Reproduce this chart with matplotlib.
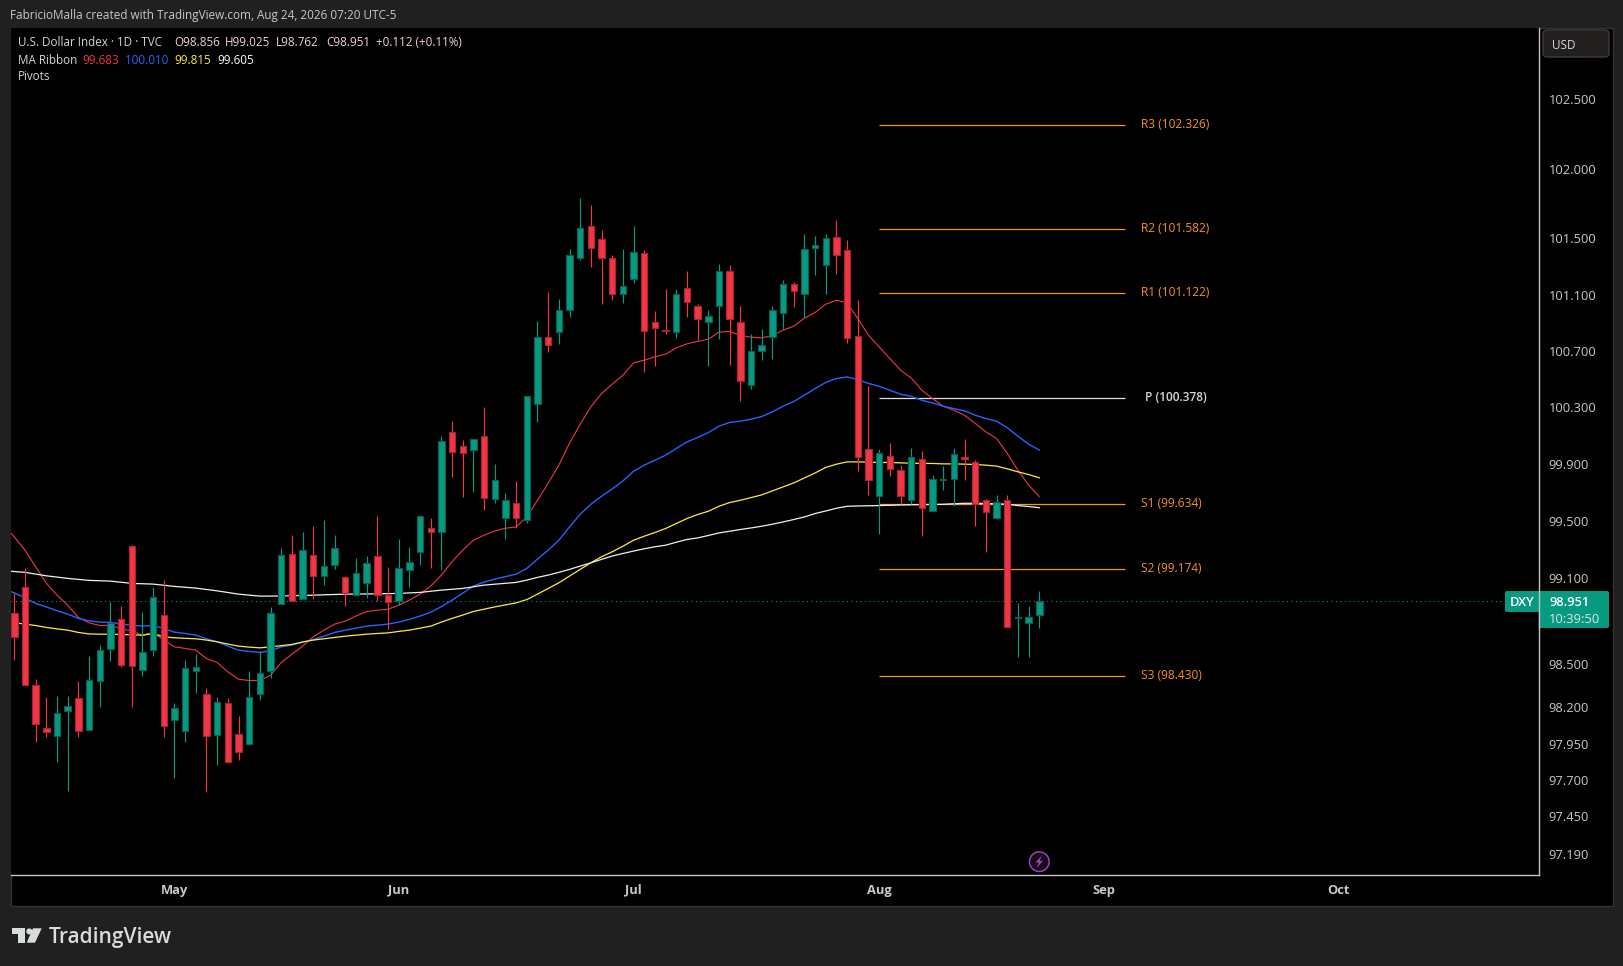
import matplotlib
matplotlib.use("Agg")
import matplotlib.pyplot as plt
from matplotlib.patches import Rectangle, FancyBboxPatch, Circle, Polygon
from matplotlib.ticker import NullLocator, NullFormatter
from matplotlib.transforms import ScaledTranslation

plt.rcParams['font.family'] = ['Open Sans', 'DejaVu Sans']

# precios diarios, un valor por vela
opens = [98.865, 99.047, 98.371, 98.067, 98.012, 98.191, 98.275, 98.060, 98.399, 98.615,
         98.824, 99.333, 98.469, 98.608, 98.852, 98.129, 98.053, 98.466, 98.309, 98.025,
         98.246, 98.032, 97.963, 98.309, 98.462, 98.928, 99.277, 98.963, 99.270, 99.124,
         99.201, 99.117, 98.991, 99.075, 99.263, 98.995, 98.953, 99.166, 99.291, 99.466,
         99.431, 100.141, 100.036, 100.014, 100.113, 99.669, 99.536, 99.641, 99.522, 100.339,
         100.814, 100.843, 101.006, 101.370, 101.599, 101.506, 101.370, 101.120, 101.220, 101.406,
         100.914, 100.857, 100.843, 101.156, 101.034, 100.914, 101.034, 101.284, 100.914, 100.473,
         100.708, 100.807, 100.978, 101.191, 101.120, 101.442, 101.320, 101.520, 101.427, 100.821,
         100.021, 99.690, 99.972, 99.873, 99.662, 99.944, 99.585, 99.800, 99.810, 99.958,
         99.923, 99.662, 99.536, 99.662, 98.833, 98.796, 98.856]
highs = [99.005, 99.180, 98.413, 98.283, 98.290, 98.290, 98.394, 98.568, 98.645, 98.944,
         98.916, 99.342, 98.874, 99.051, 99.098, 98.241, 98.540, 98.582, 98.346, 98.283,
         98.276, 98.152, 98.464, 98.603, 98.909, 99.321, 99.412, 99.433, 99.475, 99.517,
         99.412, 99.126, 99.252, 99.266, 99.545, 99.189, 99.384, 99.328, 99.550, 99.531,
         100.108, 100.214, 100.080, 100.087, 100.313, 99.911, 99.711, 99.791, 100.390, 100.923,
         101.129, 101.079, 101.435, 101.801, 101.751, 101.572, 101.394, 101.437, 101.601, 101.429,
         100.994, 101.151, 101.151, 101.279, 101.044, 101.001, 101.329, 101.322, 101.029, 100.831,
         100.866, 101.029, 101.215, 101.201, 101.544, 101.530, 101.544, 101.644, 101.499, 101.072,
         100.461, 100.017, 100.057, 99.902, 100.024, 100.002, 99.833, 99.897, 100.024, 100.087,
         99.939, 99.669, 99.692, 99.692, 98.937, 98.916, 99.025]
lows = [98.540, 98.371, 97.974, 98.009, 97.836, 97.636, 98.009, 98.060, 98.216, 98.536,
        98.494, 98.216, 98.431, 98.570, 98.009, 97.726, 97.974, 98.313, 97.629, 97.813,
        97.827, 97.848, 97.952, 98.262, 98.417, 98.928, 98.955, 98.963, 98.967, 99.063,
        99.177, 98.918, 98.991, 98.972, 98.949, 98.758, 98.925, 99.049, 99.201, 99.184,
        99.170, 99.821, 99.680, 99.716, 99.589, 99.638, 99.384, 99.466, 99.498, 100.207,
        100.705, 100.762, 100.951, 101.360, 101.308, 101.046, 101.072, 101.051, 101.196, 100.563,
        100.606, 100.833, 100.804, 100.953, 100.788, 100.606, 100.797, 100.610, 100.357, 100.440,
        100.646, 100.653, 100.866, 101.022, 100.944, 101.251, 101.115, 101.260, 100.769, 99.864,
        99.694, 99.422, 99.828, 99.634, 99.634, 99.407, 99.585, 99.728, 99.615, 99.798,
        99.475, 99.294, 99.524, 98.768, 98.561, 98.561, 98.762]
closes = [98.698, 98.371, 98.101, 98.043, 98.177, 98.225, 98.053, 98.406, 98.608, 98.796,
          98.510, 98.497, 98.594, 98.977, 98.087, 98.212, 98.483, 98.490, 98.012, 98.253,
          97.839, 97.908, 98.288, 98.448, 98.865, 99.270, 98.955, 99.305, 99.124, 99.194,
          99.319, 99.005, 99.145, 99.215, 98.991, 98.942, 99.180, 99.222, 99.550, 99.431,
          100.071, 100.000, 99.993, 100.085, 99.676, 99.803, 99.662, 99.536, 100.390, 100.814,
          100.757, 100.999, 101.392, 101.585, 101.442, 101.370, 101.113, 101.170, 101.413, 100.850,
          100.878, 100.853, 101.120, 101.063, 100.935, 100.963, 101.277, 100.942, 100.495, 100.708,
          100.757, 100.999, 101.191, 101.141, 101.435, 101.463, 101.513, 101.392, 100.800, 99.965,
          99.803, 99.993, 99.880, 99.687, 99.965, 99.606, 99.810, 99.810, 99.986, 99.948,
          99.634, 99.578, 99.648, 98.768, 98.840, 98.838, 98.951]

# medias del MA Ribbon, empiezan una vela antes de la primera
ma_index = list(range(-1, 97))
ma_red = [99.482, 99.400, 99.307, 99.191, 99.077, 98.993, 98.923, 98.838, 98.800, 98.782,
          98.782, 98.761, 98.742, 98.714, 98.733, 98.680, 98.633, 98.622, 98.610, 98.552,
          98.524, 98.459, 98.408, 98.399, 98.399, 98.436, 98.524, 98.582, 98.637, 98.703,
          98.749, 98.791, 98.812, 98.847, 98.879, 98.888, 98.895, 98.923, 98.958, 99.000,
          99.056, 99.133, 99.226, 99.307, 99.377, 99.412, 99.442, 99.461, 99.470, 99.540,
          99.657, 99.777, 99.904, 100.059, 100.193, 100.315, 100.410, 100.476, 100.539, 100.627,
          100.646, 100.669, 100.689, 100.733, 100.762, 100.779, 100.795, 100.845, 100.850, 100.821,
          100.809, 100.804, 100.821, 100.859, 100.887, 100.944, 100.985, 101.044, 101.072, 101.053,
          100.942, 100.823, 100.740, 100.658, 100.575, 100.520, 100.433, 100.374, 100.320, 100.291,
          100.256, 100.198, 100.139, 100.092, 99.986, 99.868, 99.763, 99.683]
ma_blue = [99.035, 99.009, 98.974, 98.935, 98.911, 98.884, 98.861, 98.831, 98.814, 98.805,
           98.803, 98.791, 98.784, 98.777, 98.782, 98.761, 98.735, 98.726, 98.714, 98.689,
           98.668, 98.638, 98.610, 98.601, 98.594, 98.605, 98.633, 98.645, 98.666, 98.684,
           98.707, 98.733, 98.749, 98.763, 98.777, 98.784, 98.791, 98.805, 98.824, 98.847,
           98.874, 98.913, 98.958, 99.007, 99.056, 99.084, 99.105, 99.122, 99.140, 99.180,
           99.245, 99.307, 99.377, 99.470, 99.559, 99.629, 99.685, 99.737, 99.793, 99.861,
           99.904, 99.939, 99.974, 100.021, 100.068, 100.099, 100.134, 100.179, 100.205, 100.214,
           100.228, 100.247, 100.280, 100.320, 100.353, 100.398, 100.445, 100.488, 100.516, 100.527,
           100.509, 100.481, 100.461, 100.433, 100.405, 100.390, 100.362, 100.343, 100.320, 100.303,
           100.287, 100.256, 100.233, 100.214, 100.168, 100.108, 100.052, 100.010]
ma_yellow = [98.812, 98.801, 98.791, 98.781, 98.768, 98.758, 98.749, 98.733, 98.723, 98.721,
             98.721, 98.719, 98.716, 98.714, 98.725, 98.703, 98.696, 98.692, 98.689, 98.680,
             98.668, 98.652, 98.638, 98.631, 98.626, 98.633, 98.641, 98.650, 98.666, 98.680,
             98.689, 98.698, 98.707, 98.714, 98.721, 98.726, 98.730, 98.740, 98.749, 98.763,
             98.777, 98.805, 98.831, 98.854, 98.879, 98.895, 98.911, 98.925, 98.939, 98.962,
             99.000, 99.040, 99.079, 99.126, 99.173, 99.219, 99.261, 99.296, 99.335, 99.377,
             99.405, 99.431, 99.459, 99.494, 99.529, 99.557, 99.580, 99.615, 99.641, 99.657,
             99.676, 99.695, 99.723, 99.751, 99.779, 99.814, 99.849, 99.888, 99.911, 99.927,
             99.927, 99.925, 99.923, 99.923, 99.920, 99.918, 99.916, 99.916, 99.913, 99.913,
             99.911, 99.909, 99.904, 99.897, 99.878, 99.857, 99.838, 99.815]
white_index = [-1, 1, 3, 5, 7, 9, 11, 13, 15, 17, 19, 21, 23, 25, 28, 31, 34, 36, 38, 40, 42, 44, 47,
               48, 49, 50, 51, 52, 53, 54, 55, 56, 57, 58, 59, 60, 61, 62, 63, 64, 65, 66, 67, 68,
               69, 70, 71, 72, 73, 74, 75, 76, 77, 78, 79, 81, 83, 85, 87, 89, 91, 93, 94, 95, 96]
ma_white = [99.164, 99.152, 99.128, 99.110, 99.096, 99.091, 99.075, 99.070, 99.054, 99.042, 99.023,
            99.000, 98.986, 98.987, 98.993, 99.000, 99.002, 99.005, 99.012, 99.028, 99.040, 99.063,
            99.082, 99.098, 99.117, 99.133, 99.152, 99.173, 99.196, 99.219, 99.243, 99.266, 99.284,
            99.301, 99.317, 99.331, 99.342, 99.363, 99.382, 99.393, 99.410, 99.428, 99.440, 99.452,
            99.463, 99.475, 99.489, 99.505, 99.522, 99.540, 99.564, 99.582, 99.601, 99.615, 99.617,
            99.620, 99.624, 99.627, 99.629, 99.636, 99.635, 99.629, 99.620, 99.613, 99.605]

# pivotes
pivot_names = ['R3', 'R2', 'R1', 'P', 'S1', 'S2', 'S3']
pivot_values = [102.326, 101.582, 101.122, 100.378, 99.634, 99.174, 98.430]
pivot_start = 81
pivot_end = 104
last_price = 98.951

price_ticks = [102.5, 102.0, 101.5, 101.1, 100.7, 100.3, 99.9, 99.5, 99.1, 98.5, 98.2, 97.95, 97.7, 97.45, 97.19]
month_pos = [15, 36, 58, 81, 102, 124]
month_labels = ['May', 'Jun', 'Jul', 'Aug', 'Sep', 'Oct']

UP = '#089981'
DOWN = '#f23645'
UP_EDGE = '#0b5f52'
DOWN_EDGE = '#a32636'
ORANGE = '#f7931a'
GREY = '#d1d4dc'
W, H = 1623, 966

fig = plt.figure(figsize=(W / 100, H / 100), dpi=100, facecolor='#202020')

# fondo y recuadro en pixeles
bg = fig.add_axes([0, 0, 1, 1], zorder=0)
bg.set_xlim(0, W)
bg.set_ylim(H, 0)
bg.axis('off')
bg.add_patch(Rectangle((10.5, 27.5), 1602, 878, facecolor='#000000', edgecolor='#333333', lw=1))

# eje de precios
ax = fig.add_axes([11 / W, 1 - 874.5 / H, (1539 - 11) / W, (874.5 - 28) / H], zorder=1)
ax.set_facecolor('#000000')
ax.set_yscale('log')
ax.set_xlim(-0.309, 142.8)
ax.set_ylim(97.063, 103.03)
ax.yaxis.tick_right()
ax.yaxis.set_minor_locator(NullLocator())
ax.yaxis.set_minor_formatter(NullFormatter())
ax.set_yticks(price_ticks)
ax.set_yticklabels([f'{p:.3f}' for p in price_ticks])
ax.set_xticks(month_pos)
ax.set_xticklabels(month_labels, fontweight='bold')
ax.tick_params(axis='y', length=0, pad=7, labelsize=9.3, labelcolor='#c9c9c9')
ax.tick_params(axis='x', length=0, pad=6.5, labelsize=9.3, labelcolor='#c9c9c9')
for label in ax.get_yticklabels():
    label.set_transform(label.get_transform() + ScaledTranslation(0, 0.018, fig.dpi_scale_trans))
for side in ['top', 'left']:
    ax.spines[side].set_visible(False)
for side in ['bottom', 'right']:
    ax.spines[side].set_color('#c4c4c4')
    ax.spines[side].set_linewidth(1.0)

# lineas de pivotes
for name, value in zip(pivot_names, pivot_values):
    color = '#e0e0e0' if name == 'P' else ORANGE
    ax.hlines(value, pivot_start, pivot_end, color=color, lw=0.9, zorder=1)
    ax.annotate(f'{name} ({value:.3f})', xy=(pivot_end, value), xytext=(20 if name == 'P' else 16, 0.5),
                textcoords='offset pixels', color='#d6d6d6' if name == 'P' else ORANGE,
                fontsize=8.6, ha='left', va='center', fontweight='semibold' if name == 'P' else 'normal')

# medias
ax.plot(ma_index, ma_red, color=DOWN, lw=0.8, zorder=2)
ax.plot(ma_index, ma_blue, color='#2962ff', lw=1.0, zorder=2)
ax.plot(ma_index, ma_yellow, color='#ffeb3b', lw=0.9, zorder=2)
ax.plot(white_index, ma_white, color='#f0f0f0', lw=0.9, zorder=2)

# ultimo precio
ax.axhline(last_price, color=UP, lw=0.8, ls=(0, (1, 3)), zorder=2)

# velas
for i in range(len(opens)):
    up = closes[i] >= opens[i]
    ax.vlines(i, lows[i], highs[i], color=UP if up else DOWN, lw=0.85, zorder=3)
    bottom = min(opens[i], closes[i])
    ax.bar(i, abs(closes[i] - opens[i]), bottom=bottom, width=0.6, color=UP if up else DOWN,
           edgecolor=UP_EDGE if up else DOWN_EDGE, linewidth=0.85, zorder=4)

# capa de textos en pixeles
top = fig.add_axes([0, 0, 1, 1], zorder=5)
top.set_xlim(0, W)
top.set_ylim(H, 0)
top.axis('off')
top.patch.set_alpha(0)

top.text(10, 15, 'FabricioMalla created with TradingView.com, Aug 24, 2026 07:20 UTC-5',
         color='#c8c8c8', fontsize=8.45, va='center')
top.text(18, 42.5, 'U.S. Dollar Index · 1D · TVC', color=GREY, fontsize=8.4, va='center')
PINK = '#f3d3d3'
for x, txt in zip([174, 225, 276, 326, 376],
                  ['O98.856', 'H99.025', 'L98.762', 'C98.951', '+0.112 (+0.11%)']):
    top.text(x, 42.5, txt, color=PINK, fontsize=8.4, va='center')
top.text(18, 60, 'MA Ribbon', color=GREY, fontsize=8.4, va='center')
for x, txt, color in zip([82, 125, 174, 217], ['99.683', '100.010', '99.815', '99.605'],
                         [DOWN, '#2962ff', '#ffeb3b', '#ffffff']):
    top.text(x, 60, txt, color=color, fontsize=8.4, va='center')
top.text(18, 76.5, 'Pivots', color=GREY, fontsize=8.4, va='center')

# boton USD
top.add_patch(FancyBboxPatch((1546, 33), 60, 21, boxstyle='round,pad=3,rounding_size=4',
                             facecolor='#231f1f', edgecolor='#3c3c3c', lw=1))
top.text(1552, 45.5, 'USD', color='#d6d6d6', fontsize=8.5, va='center')

# etiquetas del ultimo precio
top.add_patch(FancyBboxPatch((1507, 593), 32, 17, boxstyle='round,pad=2,rounding_size=2',
                             facecolor=UP, edgecolor='none'))
top.add_patch(FancyBboxPatch((1541, 593), 66, 33, boxstyle='round,pad=2,rounding_size=2',
                             facecolor=UP, edgecolor='none'))
top.add_patch(Rectangle((1539, 591), 6, 37, facecolor=UP, edgecolor='none'))
top.plot([1539, 1539], [591, 628], color='#c4c4c4', lw=1.0)
top.text(1522, 602.5, 'DXY', color='white', fontsize=9.3, fontweight='semibold', ha='center', va='center')
top.text(1549, 602.5, '98.951', color='white', fontsize=9.3, fontweight='semibold', va='center')
top.text(1549, 619.5, '10:39:50', color='#d5ebe5', fontsize=9.3, va='center')

# icono del rayo
top.add_patch(Circle((1039.3, 861.7), 9.8, facecolor='#150a18', edgecolor='#9c3fb8', lw=1.1))
top.add_patch(Polygon([(1042, 855.5), (1035.5, 862.5), (1039, 862.5), (1036.5, 868), (1043, 860.8), (1039.6, 860.8)],
                      closed=True, facecolor='#a545c4', edgecolor='none'))

# logo
LOGO = '#d8dcdc'
top.add_patch(Polygon([(12.3, 928.3), (25, 928.3), (25, 942.7), (17.7, 942.7), (17.7, 934), (12.3, 934)],
                      closed=True, facecolor=LOGO, edgecolor='none'))
top.add_patch(Circle((29.3, 931.4), 3, facecolor=LOGO, edgecolor='none'))
top.add_patch(Polygon([(33, 928.3), (41.7, 928.3), (35, 942.7), (26.7, 942.7)],
                      closed=True, facecolor=LOGO, edgecolor='none'))
top.text(49, 938, 'TradingView', color=LOGO, fontsize=15, fontweight='semibold', va='center')

fig.savefig('out.png', dpi=100, facecolor=fig.get_facecolor())
